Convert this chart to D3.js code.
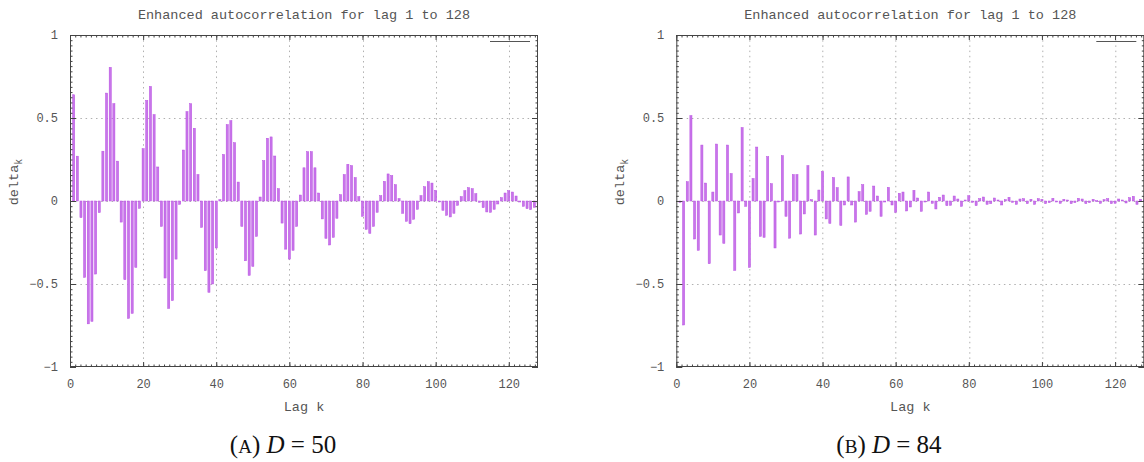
<!DOCTYPE html>
<html>
<head>
<meta charset="utf-8">
<script src="https://cdn.jsdelivr.net/npm/d3@7"></script>
<style>
  html, body { margin: 0; padding: 0; background: #fff; }
  svg { display: block; }
  .mono { font-family: "Liberation Mono", "DejaVu Sans Mono", monospace; fill: #555; }
  .cap { font-family: "Liberation Serif", "DejaVu Serif", serif; fill: #111; }
</style>
</head>
<body>
<svg id="fig" width="1144" height="462"></svg>
<script>
// Enhanced autocorrelation delta_k for lags 1..128, two runs
const lags = d3.range(1, 129);

const deltaD50 = [
  0.64, 0.27, -0.10, -0.46, -0.74, -0.725, -0.44, -0.07, 0.30, 0.65,
  0.805, 0.586, 0.24, -0.127, -0.474, -0.707, -0.677, -0.40, -0.044, 0.315,
  0.606, 0.69, 0.52, 0.205, -0.153, -0.464, -0.647, -0.60, -0.35, -0.02,
  0.307, 0.538, 0.586, 0.438, 0.159, -0.159, -0.42, -0.55, -0.50, -0.283,
  0.008, 0.28, 0.46, 0.484, 0.351, 0.114, -0.153, -0.36, -0.448, -0.394,
  -0.213, 0.024, 0.243, 0.378, 0.386, 0.271, 0.074, -0.133, -0.29, -0.35,
  -0.297, -0.153, 0.036, 0.20, 0.297, 0.297, 0.20, 0.048, -0.108, -0.225,
  -0.265, -0.219, -0.104, 0.038, 0.159, 0.221, 0.213, 0.141, 0.026, -0.092,
  -0.171, -0.195, -0.153, -0.068, 0.032, 0.118, 0.163, 0.153, 0.098, 0.014,
  -0.074, -0.122, -0.137, -0.11, -0.05, 0.032, 0.086, 0.116, 0.108, 0.064,
  -0.002, -0.056, -0.086, -0.096, -0.074, -0.026, 0.026, 0.062, 0.08, 0.074,
  0.044, -0.008, -0.04, -0.066, -0.068, -0.05, -0.018, 0.02, 0.048, 0.062,
  0.054, 0.03, -0.006, -0.032, -0.046, -0.052, -0.038, -0.015
];

const deltaD84 = [
  -0.008, -0.747, 0.116, 0.514, -0.229, -0.297, 0.337, 0.108, -0.378, 0.054,
  0.343, -0.205, -0.255, 0.337, 0.165, -0.418, -0.072, 0.442, -0.032, -0.40,
  0.135, 0.325, -0.213, -0.219, 0.267, 0.104, -0.283, -0.004, 0.273, -0.092,
  -0.224, 0.159, 0.159, -0.199, -0.078, 0.213, 0.008, -0.205, 0.066, 0.177,
  -0.108, -0.135, 0.141, 0.08, -0.147, -0.024, 0.145, -0.024, -0.127, 0.056,
  0.098, -0.08, -0.062, 0.09, 0.03, -0.092, -0.004, 0.082, -0.024, -0.068,
  0.046, 0.054, -0.06, -0.036, 0.064, 0.018, -0.062, -0.006, 0.054, -0.014,
  -0.048, 0.022, 0.036, -0.028, -0.026, 0.03, 0.012, -0.032, 0.006, 0.032,
  -0.008, -0.028, 0.014, 0.024, -0.02, -0.016, 0.018, 0.006, -0.024, 0.008,
  0.022, -0.008, -0.02, 0.012, 0.014, -0.016, 0.01, -0.02, 0.014, 0.01,
  -0.016, -0.01, 0.016, -0.004, -0.014, 0.01, 0.006, -0.016, -0.01, 0.016,
  0.012, -0.016, -0.01, 0.01, 0.002, -0.014, 0.008, 0.014, -0.016, -0.014,
  0.012, 0.006, -0.012, 0.02, 0.028, -0.02, 0.01, 0.006
];

const xTicks = [0, 20, 40, 60, 80, 100, 120];
const yTicks = [-1, -0.5, 0, 0.5, 1];
const yTickLabels = ["\u22121", "\u22120.5", "0", "0.5", "1"];
const titleText = "Enhanced autocorrelation for lag 1 to 128";
const xLabelText = "Lag k";
const panelTags = ["A", "B"];
const panelD = ["50", "84"];

const W = 468, H = 332;
const panels = [
  { left: 70, values: deltaD50, tag: panelTags[0], d: panelD[0], capX: 283 },
  { left: 676.3, values: deltaD84, tag: panelTags[1], d: panelD[1], capX: 889 }
];

const svg = d3.select("#fig");
const x = d3.scaleLinear().domain([0, 128]).range([0, W]);
const y = d3.scaleLinear().domain([-1, 1]).range([H, 0]);

const xMinor = d3.range(0, 128.01, 20 / 14);
const yMinor = d3.range(-1, 1.0001, 1 / 32);

panels.forEach((p, i) => {
  const g = svg.append("g").attr("transform", `translate(${p.left},35)`);

  // clip region for the bars
  const clipId = "clip" + i;
  g.append("clipPath").attr("id", clipId)
    .append("rect").attr("x", 0).attr("y", 0).attr("width", W).attr("height", H);

  // dotted grid
  const grid = g.append("g").attr("stroke", "#b0b0b0").attr("stroke-width", 1)
    .attr("stroke-dasharray", "1.5,3.7");
  grid.selectAll("line.gx").data(xTicks.filter(t => t > 0)).join("line")
    .attr("x1", d => Math.round(x(d)) + 0.5).attr("x2", d => Math.round(x(d)) + 0.5)
    .attr("y1", 0).attr("y2", H);
  grid.selectAll("line.gy").data([-0.5, 0, 0.5]).join("line")
    .attr("x1", 0).attr("x2", W)
    .attr("y1", d => Math.round(y(d)) + 0.5).attr("y2", d => Math.round(y(d)) + 0.5);

  // bars
  const bw = 2.1;
  g.append("g").attr("clip-path", `url(#${clipId})`)
    .selectAll("rect").data(lags).join("rect")
    .attr("x", k => x(k) - bw / 2)
    .attr("width", bw)
    .attr("y", k => y(Math.max(0, p.values[k - 1])))
    .attr("height", k => Math.max(1, Math.abs(y(p.values[k - 1]) - y(0))))
    .attr("fill", "#c875ea")
    .attr("stroke", "#b84fe2")
    .attr("stroke-width", 0.5);

  // axes: major ticks pointing inward, minor ticks, mirrored on top/right
  const styleAxis = sel => {
    sel.select(".domain").remove();
    sel.selectAll("line").attr("stroke", "#444");
    sel.selectAll("text").attr("class", "mono").attr("font-size", 12).attr("fill", "#555")
      .attr("font-family", '"Liberation Mono", "DejaVu Sans Mono", monospace');
  };

  g.append("g").attr("transform", `translate(0,${H})`)
    .call(d3.axisBottom(x).tickValues(xTicks).tickSize(-5).tickPadding(12).tickFormat(d3.format("d")))
    .call(styleAxis);
  g.append("g").attr("transform", `translate(0,${H})`)
    .call(d3.axisBottom(x).tickValues(xMinor).tickSize(-2.5).tickFormat(""))
    .call(styleAxis);
  g.append("g")
    .call(d3.axisTop(x).tickValues(xTicks).tickSize(-5).tickFormat(""))
    .call(styleAxis);
  g.append("g")
    .call(d3.axisTop(x).tickValues(xMinor).tickSize(-2.5).tickFormat(""))
    .call(styleAxis);

  g.append("g")
    .call(d3.axisLeft(y).tickValues(yTicks).tickSize(-6).tickPadding(12)
      .tickFormat((d, j) => yTickLabels[j]))
    .call(styleAxis);
  g.append("g")
    .call(d3.axisLeft(y).tickValues(yMinor).tickSize(-2.5).tickFormat(""))
    .call(styleAxis);
  g.append("g").attr("transform", `translate(${W},0)`)
    .call(d3.axisRight(y).tickValues(yTicks).tickSize(-6).tickFormat(""))
    .call(styleAxis);
  g.append("g").attr("transform", `translate(${W},0)`)
    .call(d3.axisRight(y).tickValues(yMinor).tickSize(-2.5).tickFormat(""))
    .call(styleAxis);

  // frame
  g.append("rect").attr("x", 0.5).attr("y", 0.5).attr("width", W - 1).attr("height", H - 1)
    .attr("fill", "none").attr("stroke", "#444").attr("stroke-width", 1);

  // key sample line (untitled series)
  g.append("line").attr("x1", W - 48).attr("x2", W - 8).attr("y1", 6.5).attr("y2", 6.5)
    .attr("stroke", "#555").attr("stroke-width", 1.2);

  // title
  g.append("text").attr("class", "mono").attr("font-size", 13.5)
    .attr("x", W / 2).attr("y", -16).attr("text-anchor", "middle").text(titleText);

  // x label
  g.append("text").attr("class", "mono").attr("font-size", 13.5)
    .attr("x", W / 2).attr("y", H + 44).attr("text-anchor", "middle").text(xLabelText);

  // y label delta_k
  const yl = g.append("text").attr("class", "mono").attr("font-size", 13.5)
    .attr("transform", `translate(${-52},${H / 2 - 19}) rotate(-90)`)
    .attr("text-anchor", "middle");
  yl.append("tspan").text("delta");
  yl.append("tspan").attr("font-size", 10).attr("dy", 4).text("k");

  // sub-figure caption
  const cap = svg.append("text").attr("class", "cap").attr("font-size", 25)
    .attr("x", p.capX).attr("y", 453).attr("text-anchor", "middle");
  cap.append("tspan").text("(");
  cap.append("tspan").attr("font-size", 19).text(p.tag);
  cap.append("tspan").text(") ");
  cap.append("tspan").attr("font-style", "italic").text("D");
  cap.append("tspan").text(" = " + p.d);
});
</script>
</body>
</html>
